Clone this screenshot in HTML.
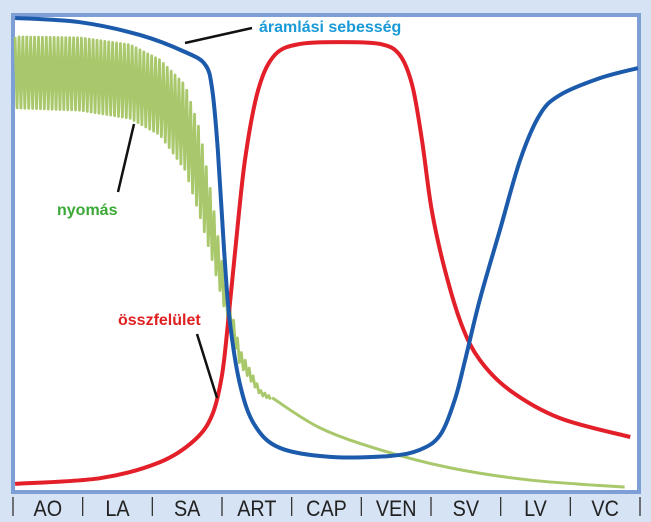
<!DOCTYPE html>
<html><head><meta charset="utf-8"><style>
html,body{margin:0;padding:0;background:#d5e3f4;}
svg{display:block;}
</style></head><body>
<svg id="chart" width="651" height="522" viewBox="0 0 651 522" xmlns="http://www.w3.org/2000/svg">
<rect x="0" y="0" width="651" height="522" fill="#d5e3f4"/>
<rect x="13" y="15" width="626" height="477" fill="#fff" stroke="#7d9fd6" stroke-width="4"/>
<g id="marks"></g>
<g id="axis"></g>
<line x1="185" y1="43" x2="252" y2="28" stroke="#111" stroke-width="2.5"/>
<text x="259" y="32" font-family="Liberation Sans, sans-serif" font-weight="bold" font-size="16" fill="#1a9ad6">áramlási sebesség</text>
<line x1="118" y1="192" x2="134" y2="124" stroke="#111" stroke-width="2.5"/>
<text x="57" y="215" font-family="Liberation Sans, sans-serif" font-weight="bold" font-size="16" fill="#3aa935">nyomás</text>
<line x1="197" y1="334" x2="217" y2="398" stroke="#111" stroke-width="2.5"/>
<text x="118" y="325" font-family="Liberation Sans, sans-serif" font-weight="bold" font-size="16" fill="#e02020">összfelület</text>
</svg>
<script>
const categories=["AO","LA","SA","ART","CAP","VEN","SV","LV","VC"];
const flowX=[0.03,0.96,1.82,2.47,2.76,2.86,2.94,3.03,3.11,3.26,3.47,3.83,4.55,5.41,5.84,6.13,6.34,6.49,6.70,6.99,7.28,7.56,7.85,8.43,8.97];
const flowY=[99.8,98.9,96.2,92.6,89.9,84.6,71.9,50.7,35.9,22.2,13.7,8.9,7.0,7.2,8.5,11.6,19.0,27.5,40.2,55.0,69.8,79.3,83.5,87.1,89.2];
const areaX=[0.03,1.25,2.11,2.61,2.86,3.00,3.09,3.19,3.33,3.52,3.76,4.12,4.69,5.27,5.55,5.73,5.87,6.01,6.20,6.44,6.70,7.13,7.85,8.86];
const areaY=[1.3,2.5,5.9,10.6,15.9,24.3,35.9,50.7,69.8,84.6,92.0,94.3,94.7,94.3,92.0,85.6,74.0,59.2,46.5,34.9,27.5,21.1,15.2,11.2];
const pressX=[0.03,0.96,1.68,2.11,2.47,2.68,2.86,3.04,3.26,3.55,3.72];
const pressTop=[95.8,95.6,94.1,90.9,85.6,76.1,61.3,44.4,29.6,21.1,19.5];
const pressBottom=[80.8,80.3,78.6,75.1,67.7,58.1,48.6,38.1,26.4,20.1,19.0];
const tailX=[3.72,4.41,5.27,6.27,7.42,8.78];
const tailY=[19.5,13.1,8.5,4.7,2.1,0.6];

const X0=13,X1=640,Y0=490,Y1=17;
const sx=v=>X0+v*(X1-X0)/9;
const sy=v=>Y0-v*(Y0-Y1)/100;
const NS="http://www.w3.org/2000/svg";
const marks=document.getElementById('marks');
const axis=document.getElementById('axis');

function smooth(xs,ys){
  const p=xs.map((x,i)=>[sx(x),sy(ys[i])]);
  let d=`M${p[0][0]},${p[0][1]}`;
  for(let i=0;i<p.length-1;i++){
    const a=p[i-1]||p[i],b=p[i],c=p[i+1],e=p[i+2]||c;
    d+=` C${b[0]+(c[0]-a[0])/6},${b[1]+(c[1]-a[1])/6} ${c[0]-(e[0]-b[0])/6},${c[1]-(e[1]-b[1])/6} ${c[0]},${c[1]}`;
  }
  return d;
}
function interp(xs,ys,x){
  for(let i=0;i<xs.length-1;i++){if(x<=xs[i+1]){const t=(x-xs[i])/(xs[i+1]-xs[i]);return ys[i]+t*(ys[i+1]-ys[i]);}}
  return ys[ys.length-1];
}
let d="",k=0;
const xEnd=pressX[pressX.length-1];
for(let x=pressX[0];x<=xEnd;x+=0.028){
  const v=(k%2===0)?interp(pressX,pressTop,x):interp(pressX,pressBottom,x);
  d+=(k===0?"M":"L")+sx(x)+","+sy(v)+" ";k++;
}
const pz=document.createElementNS(NS,'path');
pz.setAttribute('d',d);pz.setAttribute('fill','none');pz.setAttribute('stroke','#a9c86c');pz.setAttribute('stroke-width','2.8');pz.setAttribute('stroke-linejoin','round');


marks.appendChild(pz);
const pt=document.createElementNS(NS,'path');
pt.setAttribute('d',smooth(tailX,tailY));pt.setAttribute('fill','none');pt.setAttribute('stroke','#a9c86c');pt.setAttribute('stroke-width','3');


marks.appendChild(pt);
const ar=document.createElementNS(NS,'path');
ar.setAttribute('d',smooth(areaX,areaY));ar.setAttribute('fill','none');ar.setAttribute('stroke','#e3202a');ar.setAttribute('stroke-width','4');


marks.appendChild(ar);
const fl=document.createElementNS(NS,'path');
fl.setAttribute('d',smooth(flowX,flowY));fl.setAttribute('fill','none');fl.setAttribute('stroke','#1c5aab');fl.setAttribute('stroke-width','4');


marks.appendChild(fl);
for(let i=0;i<=categories.length;i++){
  const l=document.createElementNS(NS,'line');
  l.setAttribute('x1',sx(i));l.setAttribute('x2',sx(i));l.setAttribute('y1',497);l.setAttribute('y2',516);
  l.setAttribute('stroke','#333');l.setAttribute('stroke-width','1.3');
  
  
  axis.appendChild(l);
}
categories.forEach((c,i)=>{
  const t=document.createElementNS(NS,'text');
  const cx=sx(i+0.5);
  t.setAttribute('x',0);t.setAttribute('y',0);
  t.setAttribute('transform',`translate(${cx},516) scale(0.9,1)`);
  t.setAttribute('text-anchor','middle');t.setAttribute('font-family','Liberation Sans, sans-serif');
  t.setAttribute('font-size','22');t.setAttribute('fill','#222');
  t.textContent=c;
  
  
  axis.appendChild(t);
});
</script>
</body></html>
